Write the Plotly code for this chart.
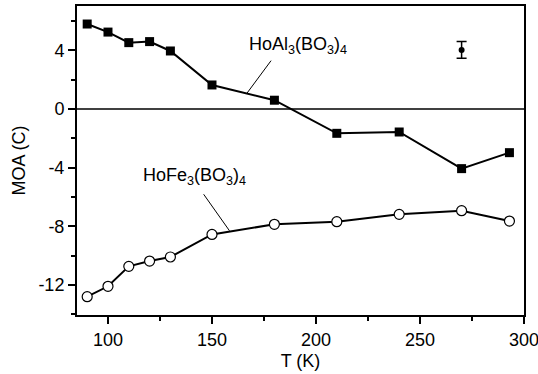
import plotly.graph_objects as go

temps = [90, 100, 110, 120, 130, 150, 180, 210, 240, 270, 293]
moa_al = [5.8, 5.25, 4.53, 4.6, 3.96, 1.64, 0.6, -1.66, -1.57, -4.07, -2.98]
moa_fe = [-12.81, -12.1, -10.74, -10.38, -10.1, -8.56, -7.87, -7.69, -7.19, -6.94, -7.65]
err_x = [270]
err_y = [4.03]
err_val = [0.57]
x_ticks = [100, 150, 200, 250, 300]
y_ticks = [-12, -8, -4, 0, 4]
y_ticklabels = ["-12", "-8", "-4", "0", "4"]

font = "Liberation Sans, Arial, sans-serif"

fig = go.Figure()
fig.add_trace(go.Scatter(x=temps, y=moa_al, mode="lines+markers",
                         line=dict(color="black", width=2),
                         marker=dict(symbol="square", size=9, color="black"),
                         showlegend=False))
fig.add_trace(go.Scatter(x=temps, y=moa_fe, mode="lines+markers",
                         line=dict(color="black", width=2),
                         marker=dict(symbol="circle", size=10, color="white",
                                     line=dict(color="black", width=1.2)),
                         showlegend=False))
fig.add_trace(go.Scatter(x=err_x, y=err_y, mode="markers",
                         marker=dict(symbol="circle", size=6, color="black"),
                         error_y=dict(type="data", array=err_val, color="black",
                                      thickness=1.5, width=5),
                         showlegend=False))

# zero line
fig.add_shape(type="line", xref="paper", x0=0, x1=1, yref="y", y0=0, y1=0,
              line=dict(color="black", width=1.5))
# leader lines
fig.add_shape(type="line", x0=178.4, y0=3.3, x1=166.5, y1=1.02,
              line=dict(color="black", width=1))
fig.add_shape(type="line", x0=146, y0=-5.82, x1=158.4, y1=-8.31,
              line=dict(color="black", width=1))

fig.add_annotation(x=191.5, y=4.35, text="HoAl<sub>3</sub>(BO<sub>3</sub>)<sub>4</sub>",
                   showarrow=False, font=dict(size=18, color="black", family=font))
fig.add_annotation(x=141.7, y=-4.6, text="HoFe<sub>3</sub>(BO<sub>3</sub>)<sub>4</sub>",
                   showarrow=False, font=dict(size=18, color="black", family=font))

axis_common = dict(showline=True, linecolor="black", linewidth=2, mirror=True,
                   ticks="outside", tickwidth=2, ticklen=7, tickcolor="black",
                   showgrid=False, zeroline=False, ticklabeloverflow="allow",
                   automargin=False,
                   tickfont=dict(size=18, color="black", family=font),
                   title_font=dict(size=18, color="black", family=font))

fig.update_xaxes(range=[85.1, 300], tickvals=x_ticks,
                 minor=dict(ticks="outside", ticklen=4, tickwidth=2, tickcolor="black",
                            tickvals=[125, 175, 225, 275]),
                 title_text="T (K)", title_standoff=6, **axis_common)
fig.update_yaxes(range=[-14.06, 7.03], tickvals=y_ticks, ticktext=y_ticklabels,
                 minor=dict(ticks="outside", ticklen=4, tickwidth=2, tickcolor="black",
                            tickvals=[-14, -10, -6, -2, 2, 6]),
                 title_text="MOA (C)", title_standoff=8, **axis_common)

fig.update_layout(width=538, height=374, margin=dict(l=77, r=14, t=6, b=59),
                  paper_bgcolor="white", plot_bgcolor="white",
                  font=dict(family=font, color="black"))

fig.write_html("out.html")
